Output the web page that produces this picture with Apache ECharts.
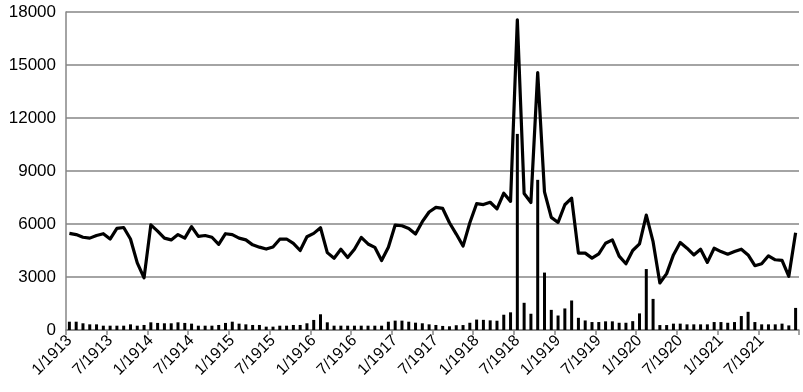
<!DOCTYPE html>
<html>
<head>
<meta charset="utf-8">
<script src="https://cdn.jsdelivr.net/npm/echarts@6/dist/echarts.min.js"></script>
<style>html,body{margin:0;padding:0;background:#fff}#c{width:803px;height:392px}</style>
</head>
<body>
<div id="c"></div>
<script>
// Months 1/1913 .. 12/1921
const categories = [];
for (let y = 1913; y <= 1921; y++) for (let m = 1; m <= 12; m++) categories.push(m + '/' + y);

const lineValues = [
  5470, 5400, 5250, 5200, 5350, 5450, 5150, 5750, 5800, 5150, 3800, 2950,
  5950, 5600, 5200, 5100, 5400, 5200, 5850, 5300, 5350, 5250, 4850, 5450,
  5400, 5200, 5100, 4820, 4690, 4580, 4700, 5140, 5150, 4900, 4500, 5280,
  5470, 5790, 4380, 4060, 4570, 4100, 4570, 5240, 4870, 4680, 3930, 4680,
  5940, 5900, 5750, 5430, 6130, 6680, 6940, 6880, 6070, 5430, 4750, 6070,
  7150, 7100, 7230, 6860, 7740, 7280, 17560, 7725, 7220, 14570, 7820, 6375,
  6090, 7090, 7460, 4350, 4350, 4070, 4310, 4910, 5100, 4180, 3750, 4500,
  4875, 6500, 5000, 2660, 3190, 4250, 4950, 4630, 4250, 4575, 3825, 4630,
  4440, 4290, 4440, 4575, 4250, 3640, 3750, 4200, 3975, 3940, 3040, 5510
];

const barValues = [
  470, 470, 380, 320, 320, 245, 245, 245, 245, 320, 245, 285,
  435, 400, 380, 380, 435, 400, 360, 245, 245, 245, 285, 400,
  470, 360, 320, 285, 285, 190, 190, 245, 245, 285, 285, 380,
  570, 890, 435, 245, 245, 245, 245, 245, 245, 245, 245, 470,
  530, 530, 470, 415, 380, 320, 285, 230, 210, 270, 280, 410,
  590, 575, 545, 525, 865, 1000, 11100, 1540, 920, 8500, 3250, 1140,
  820, 1220, 1670, 690, 540, 450, 450, 490, 490, 410, 410, 500,
  940, 3450, 1760, 280, 280, 360, 360, 320, 320, 320, 320, 450,
  450, 410, 450, 790, 1030, 450, 320, 320, 320, 360, 260, 1250
];

const yTicks = [0, 3000, 6000, 9000, 12000, 15000, 18000];

const chart = echarts.init(document.getElementById('c'), null, {renderer: 'canvas'});
chart.setOption({
  animation: false,
  backgroundColor: '#fff',
  grid: {left: 66, right: 4, top: 12, bottom: 62, containLabel: false},
  xAxis: {
    type: 'category',
    data: categories,
    boundaryGap: true,
    axisLine: {show: true, lineStyle: {color: '#868686', width: 1.5}},
    axisTick: {show: true, interval: 5, length: 5, lineStyle: {color: '#868686', width: 1.5}},
    axisLabel: {interval: 5, rotate: 45, color: '#000', fontFamily: 'Liberation Sans, Arial, sans-serif', fontSize: 16, margin: 8},
    splitLine: {show: false}
  },
  yAxis: {
    type: 'value',
    min: yTicks[0],
    max: yTicks[yTicks.length - 1],
    interval: 3000,
    axisLine: {show: true, lineStyle: {color: '#868686', width: 1.5}},
    axisTick: {show: false},
    axisLabel: {color: '#000', fontFamily: 'Liberation Sans, Arial, sans-serif', fontSize: 17, margin: 10,
      formatter: function (v) { return String(v); }},
    splitLine: {show: true, lineStyle: {color: '#868686', width: 1.5}}
  },
  series: [
    {
      type: 'bar',
      data: barValues,
      barWidth: 3,
      itemStyle: {color: '#000'},
      silent: true
    },
    {
      type: 'line',
      data: lineValues,
      symbol: 'none',
      smooth: false,
      lineStyle: {color: '#000', width: 3.2, join: 'round'},
      z: 3
    }
  ]
});
</script>
</body>
</html>
